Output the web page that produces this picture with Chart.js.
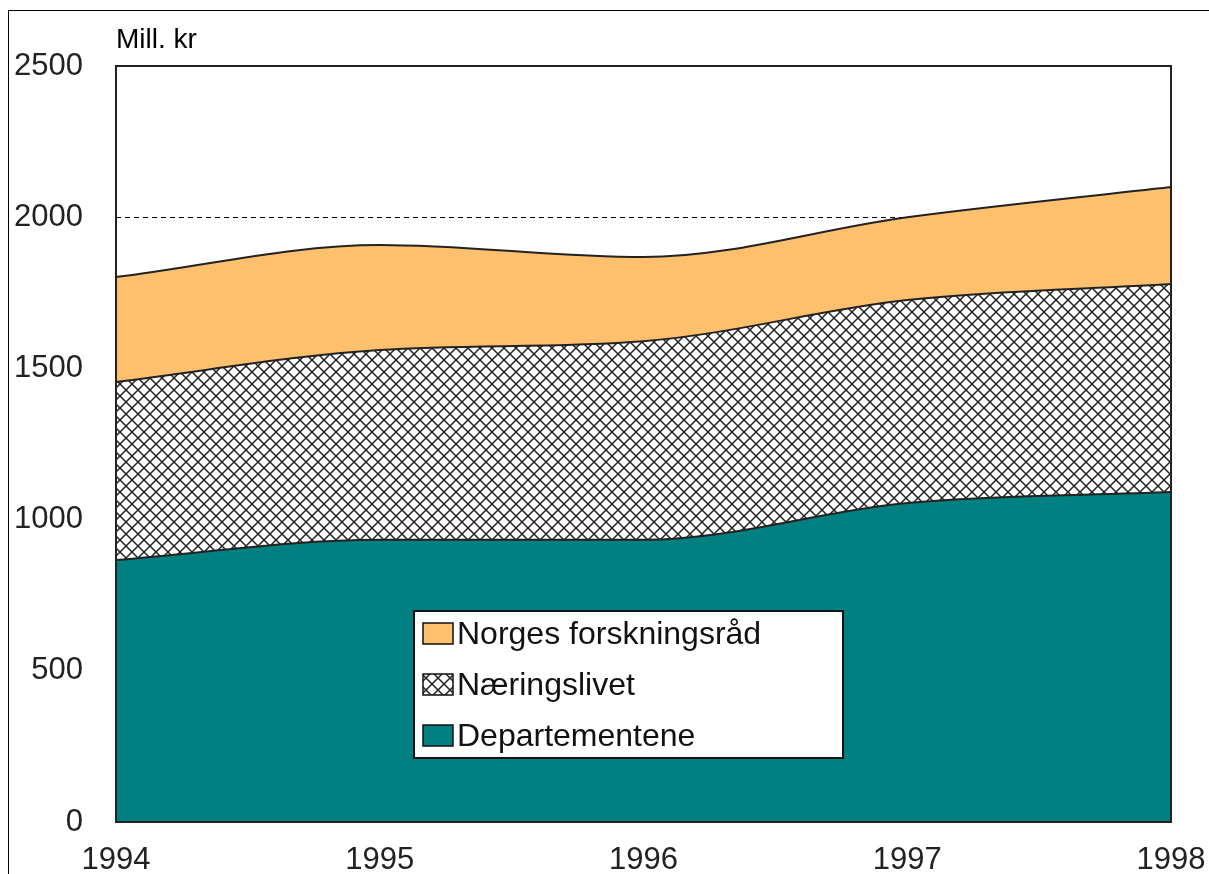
<!DOCTYPE html>
<html>
<head>
<meta charset="utf-8">
<script src="https://cdn.jsdelivr.net/npm/chart.js@4/dist/chart.umd.min.js"></script>
<style>
  html, body { margin: 0; padding: 0; background: #fff; }
  #wrap { position: absolute; left: 0; top: 0; width: 1209px; height: 874px; }
</style>
</head>
<body>
<div id="wrap"><canvas id="chart" width="1209" height="874"></canvas></div>
<script>
// ---- data (Mill. kr) ----
const years = ['1994', '1995', '1996', '1997', '1998'];
const departementene = [866, 933, 933, 1055, 1091];
const naeringslivet = [589, 628, 657, 671, 688];
const forskningsraad = [347, 347, 278, 274, 321];
const yTicks = [0, 500, 1000, 1500, 2000, 2500];

const FONT = '"Liberation Sans", Arial, sans-serif';
const TEAL = '#008080';
const ORANGE = '#FFC06E';

// cross-hatch pattern for Næringslivet
function makeHatch() {
  const c = document.createElement('canvas');
  c.width = 12; c.height = 12;
  const g = c.getContext('2d');
  g.fillStyle = '#fff';
  g.fillRect(0, 0, 12, 12);
  g.strokeStyle = '#222';
  g.lineWidth = 1.5;
  g.beginPath();
  g.moveTo(0, 0); g.lineTo(12, 12);
  g.moveTo(0, 12); g.lineTo(12, 0);
  g.stroke();
  return g.createPattern(c, 'repeat');
}
const hatch = makeHatch();

// frame, unit label, outer border
const framePlugin = {
  id: 'frame',
  afterDatasetsDraw(chart) {
    const { ctx, chartArea: a } = chart;
    ctx.save();
    ctx.strokeStyle = '#222';
    ctx.lineWidth = 2;
    ctx.strokeRect(a.left, a.top, a.right - a.left, a.bottom - a.top);
    ctx.lineWidth = 1;
    ctx.strokeStyle = '#000';
    ctx.strokeRect(8.5, 10.5, 1220, 900);
    ctx.fillStyle = '#000';
    ctx.font = '28px ' + FONT;
    ctx.textBaseline = 'alphabetic';
    ctx.fillText('Mill. kr', a.left, 48);
    ctx.restore();
  }
};

// legend box inside the plot
const legendBox = {
  id: 'legendBox',
  afterDraw(chart) {
    const { ctx } = chart;
    const x = 414, y = 611, w = 429, h = 147;
    ctx.save();
    ctx.fillStyle = '#fff';
    ctx.fillRect(x, y, w, h);
    ctx.strokeStyle = '#111';
    ctx.lineWidth = 2;
    ctx.strokeRect(x, y, w, h);
    const items = chart.data.datasets.slice().reverse();
    ctx.font = '32px ' + FONT;
    ctx.textBaseline = 'middle';
    items.forEach((ds, i) => {
      const cy = y + 23 + i * 51;
      ctx.fillStyle = ds.backgroundColor;
      ctx.fillRect(x + 9, cy - 11, 30, 21);
      ctx.strokeStyle = '#111';
      ctx.lineWidth = 1.5;
      ctx.strokeRect(x + 9, cy - 11, 30, 21);
      ctx.fillStyle = '#111';
      ctx.fillText(ds.label, x + 43, cy + 1);
    });
    ctx.restore();
  }
};

const ds = (label, data, bg, fill) => ({
  label, data, fill,
  backgroundColor: bg,
  borderColor: '#222',
  borderWidth: 2,
  pointRadius: 0,
  cubicInterpolationMode: 'monotone'
});

new Chart(document.getElementById('chart'), {
  type: 'line',
  data: {
    labels: years,
    datasets: [
      ds('Departementene', departementene, TEAL, 'origin'),
      ds('Næringslivet', naeringslivet, hatch, '-1'),
      ds('Norges forskningsråd', forskningsraad, ORANGE, '-1')
    ]
  },
  options: {
    responsive: false,
    animation: false,
    layout: { padding: { top: 66, right: 38, left: 0, bottom: 0 } },
    plugins: { legend: { display: false }, tooltip: { enabled: false } },
    scales: {
      x: {
        offset: false,
        grid: { display: false },
        border: { display: false },
        ticks: { color: '#222', font: { family: FONT, size: 31 }, padding: 12, maxRotation: 0 },
        afterFit(s) { s.height = 52; s.paddingLeft = 0; s.paddingRight = 0; }
      },
      y: {
        stacked: true,
        min: 0, max: 2500,
        afterBuildTicks(s) { s.ticks = yTicks.map(v => ({ value: v })); },
        grid: {
          drawTicks: false,
          color: c => c.tick && c.tick.value === 2000 ? '#000' : 'rgba(0,0,0,0)',
          lineWidth: 1
        },
        border: { display: false, dash: [5, 4] },
        ticks: {
          color: '#222', font: { family: FONT, size: 31 }, padding: 33,
          callback: v => String(v)
        },
        afterFit(s) { s.width = 116; s.paddingTop = 0; s.paddingBottom = 0; }
      }
    }
  },
  plugins: [framePlugin, legendBox]
});
</script>
</body>
</html>
